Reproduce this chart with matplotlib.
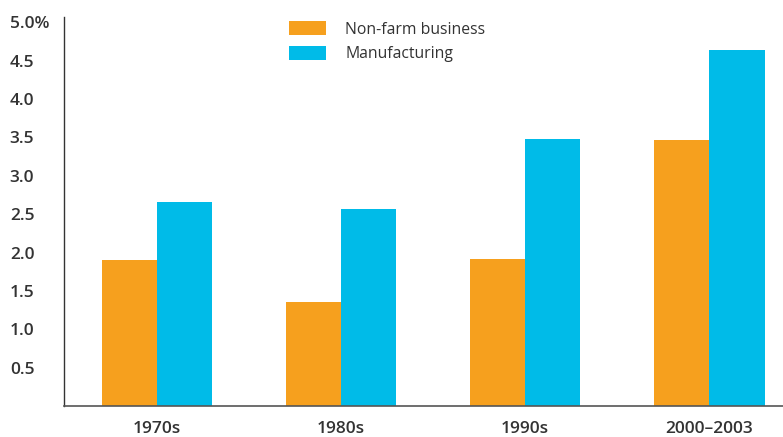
import matplotlib.pyplot as plt
import numpy as np

# Data
periods = ['1970s', '1980s', '1990s', '2000\u20132003']
nonfarm = [1.90, 1.36, 1.91, 3.47]
manufacturing = [2.66, 2.57, 3.48, 4.64]
yticks = [0.5, 1.0, 1.5, 2.0, 2.5, 3.0, 3.5, 4.0, 4.5, 5.0]
ytick_labels = ['0.5', '1.0', '1.5', '2.0', '2.5', '3.0', '3.5', '4.0', '4.5', '5.0%']

plt.rcParams['font.family'] = ['Open Sans', 'DejaVu Sans']

fig = plt.figure(figsize=(7.83, 4.37), dpi=100)
ax = fig.add_axes([0.0817, 0.071, 0.9183, 0.890])

x = np.arange(len(periods))
w = 0.3
ax.bar(x - w / 2, nonfarm, width=w, color='#F6A01E', label='Non-farm business')
ax.bar(x + w / 2, manufacturing, width=w, color='#00BBE8', label='Manufacturing')

ax.set_xlim(-0.505, 3.40)
ax.set_ylim(0, 5.07)
ax.set_xticks(x)
ax.set_xticklabels(periods, fontsize=12.5, fontweight='semibold', color='#333333')
ax.set_yticks(yticks)
ax.set_yticklabels(ytick_labels, fontsize=12.5, fontweight='semibold', color='#333333')
ax.tick_params(axis='both', length=0)
ax.tick_params(axis='y', pad=39)
ax.tick_params(axis='x', pad=11)
for lab in ax.get_yticklabels():
    lab.set_horizontalalignment('left')

for s in ['top', 'right']:
    ax.spines[s].set_visible(False)
ax.spines['left'].set_color('#333333')
ax.spines['bottom'].set_color('#555555')
ax.spines['left'].set_linewidth(1.0)
ax.spines['bottom'].set_linewidth(1.2)

# legend sits inside the plot, near the top centre
ax.legend(loc='upper left', bbox_to_anchor=(0.293, 1.025), frameon=False,
          fontsize=11.3, handlelength=2.4, handleheight=1.0, handletextpad=1.2,
          labelspacing=0.5, labelcolor='#333333')

fig.savefig('out.png', dpi=100)
